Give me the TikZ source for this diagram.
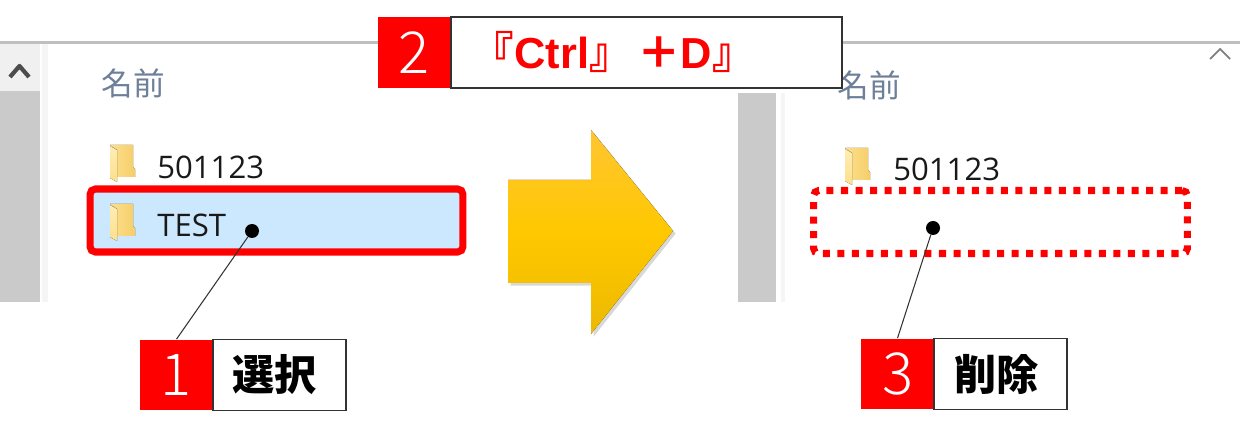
\documentclass[tikz,border=0pt]{standalone}
\usepackage{fontspec}
\setmainfont{Noto Sans CJK JP}
\newfontfamily\listfont{Open Sans}
\newfontfamily\keyfont{Liberation Sans}
\newfontfamily\numfont{Noto Sans CJK JP Light}
\usepackage{tikz}
\usetikzlibrary{positioning,shadows}
\definecolor{barred}{HTML}{FF0000}
\definecolor{selblue}{HTML}{CCE8FF}
\definecolor{headgray}{HTML}{6D7F99}
\definecolor{bargray}{HTML}{CACACA}
\definecolor{boxline}{HTML}{333333}
\definecolor{foldback}{HTML}{FDE08E}
\definecolor{folddark}{HTML}{F5CE68}
\definecolor{foldfront}{HTML}{FFEDB5}
\definecolor{foldfrontb}{HTML}{FDDF8C}
\definecolor{arrowtop}{HTML}{FFC533}
\definecolor{arrowmid}{HTML}{FFC800}
\definecolor{arrowbot}{HTML}{ECB900}
\tikzset{
    numbox/.style={fill=barred, text=white, inner sep=0pt, minimum width=1.46cm, minimum height=1.42cm, font=\numfont\fontsize{33}{33}\selectfont},
    labelbox/.style={draw=boxline, line width=0.7pt, fill=white, inner sep=0pt, minimum height=1.42cm, font=\bfseries\fontsize{24}{24}\selectfont},
    headtext/.style={text=headgray, inner sep=0pt, font=\fontsize{18}{18}\selectfont},
    listtext/.style={text=black!90, inner sep=0pt, anchor=west, font=\listfont\fontsize{17.7}{18}\selectfont},
    pindot/.style={circle, fill=black, inner sep=0pt, minimum size=0.28cm},
    pinline/.style={draw=black!80, line width=0.6pt},
    folder/.pic={
        \fill[left color=foldback, right color=folddark] (0,1)--(23,1)--(23,23)--(25,25)--(25,33)--(7,33)--(7,6)--cycle;
        \fill[top color=foldfront, bottom color=foldfrontb] (0,2)--(7,6)--(7,38)--(0,34)--cycle;
    }
}
\begin{document}
\begin{tikzpicture}[x=0.02cm, y=-0.02cm]
    \useasboundingbox (0,0) rectangle (1240,445);
    \fill[white] (0,0) rectangle (1240,445);

    % window behind the boxes
    \fill[black!25] (0,41) rectangle (1240,44);
    \fill[black!6] (0,44) rectangle (40,91);
    \fill[bargray] (0,91) rectangle (40,302);
    \fill[black!4] (42,44) rectangle (48,302);
    \fill[bargray] (738,93) rectangle (776,302);
    \fill[black!4] (781,93) rectangle (785,302);
    \draw[black!70, line width=2.4pt, line join=round] (10,77)--(19.5,66)--(29,77);
    \draw[black!50, line width=1pt] (1210,59)--(1220,49)--(1230,59);

    \node[headtext](head-left) at (133,83){名前};
    \node[headtext](head-right) at (869,85){名前};

    \pic at (110,144) {folder};
    \node[listtext](name-left) at (157,167){501123};
    \node[draw=barred, line width=4pt, rounded corners=3pt, fill=selblue, minimum width=7.46cm, minimum height=1.26cm](selrow) at (276.5,220.5){};
    \pic at (110,203) {folder};
    \node[listtext](name-test) at (157,225){TEST};

    \pic at (845,147) {folder};
    \node[listtext](name-right) at (893,169){501123};
    \node[draw=barred, line width=4pt, dash pattern=on 4pt off 4.27pt, rounded corners=3pt, minimum width=7.48cm, minimum height=1.26cm](delrow) at (1000.5,222){};

    % big arrow
    \fill[top color=arrowtop, bottom color=arrowbot, middle color=arrowmid, drop shadow={shadow xshift=1.5pt, shadow yshift=-1.5pt, opacity=0.3}]
        (508,180)--(591,180)--(591,130)--(673,231)--(591,334)--(591,283)--(508,283)--cycle;

    % step boxes
    \node[numbox](num-one) at (176.5,375){1};
    \node[labelbox, minimum width=2.66cm, right=-0.02cm of num-one](label-one){\raisebox{2pt}{選択\hspace{0.2cm}}};
    \node[numbox](num-two) at (414.5,52.5){2};
    \node[labelbox, minimum width=7.82cm, text width=7.02cm, align=left, text=barred, font=\bfseries\fontsize{24.7}{26}\selectfont, right=-0.02cm of num-two](label-two){\raisebox{2.5pt}{『{\keyfont Ctrl}』\hspace{0.1cm}＋{\keyfont D}』}};
    \node[numbox](num-three) at (897.5,374){3};
    \node[labelbox, minimum width=2.66cm, right=-0.02cm of num-three](label-three){\raisebox{2pt}{削除\hspace{0.16cm}}};

    \node[pindot](dot-one) at (252,231){};
    \node[pindot](dot-three) at (933,228){};
    \draw[pinline](dot-one)--(num-one.north);
    \draw[pinline](dot-three)--(num-three.north);
\end{tikzpicture}
\end{document}
